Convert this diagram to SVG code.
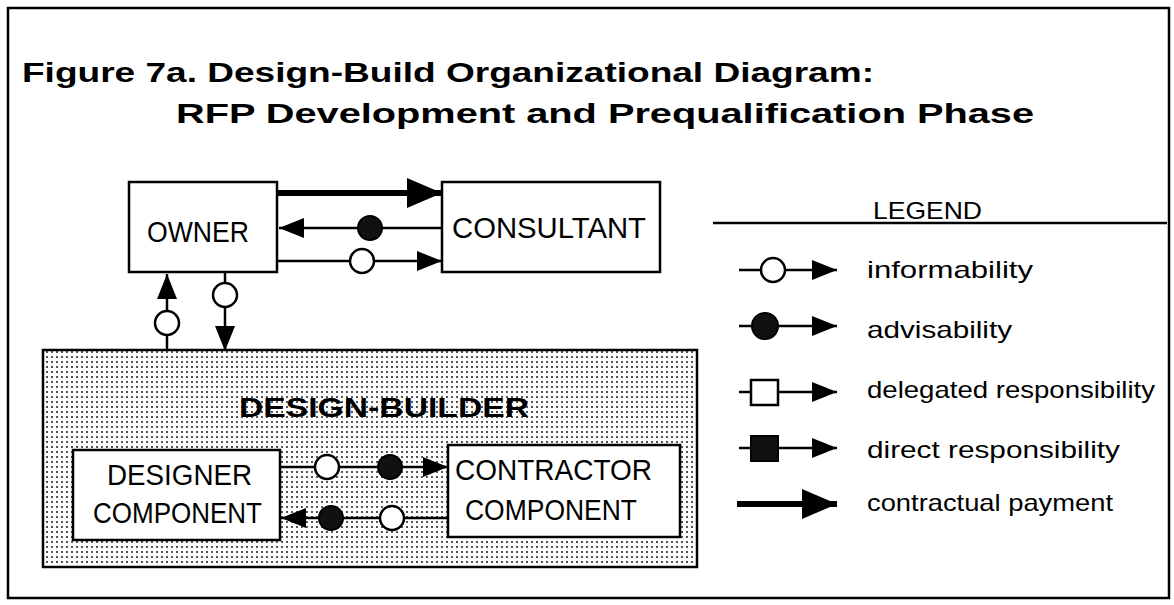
<svg xmlns="http://www.w3.org/2000/svg" width="1174" height="605" viewBox="0 0 1174 605">
<style>
.box{fill:#fff;stroke:#000;stroke-width:2.5}
.ln{stroke:#000;stroke-width:2.5;fill:none}
.thick{stroke:#000;stroke-width:6;fill:none}
.oc{fill:#fff;stroke:#000;stroke-width:2.5}
.fc{fill:#111;stroke:#000;stroke-width:2}
.title{font-family:"Liberation Sans",Arial,sans-serif;font-weight:bold;font-size:28px;fill:#000}
.lbl{font-family:"Liberation Sans",Arial,sans-serif;font-size:30px;fill:#000}
.leg{font-family:"Liberation Sans",Arial,sans-serif;font-size:24px;fill:#000}
</style>
<defs>
<pattern id="dots" width="5" height="5" patternUnits="userSpaceOnUse">
<rect width="5" height="5" fill="#fff"/>
<rect x="1" y="1" width="2" height="2" fill="#555"/>
</pattern>
<marker id="ah" markerUnits="userSpaceOnUse" markerWidth="28" markerHeight="22" refX="25" refY="11" orient="auto">
<path d="M0,1 L25,11 L0,21 z" fill="#000"/>
</marker>
<marker id="ahb" markerUnits="userSpaceOnUse" markerWidth="38" markerHeight="34" refX="35" refY="16" orient="auto">
<path d="M0,1 L35,16 L0,31 z" fill="#000"/>
</marker>
</defs>
<rect x="8" y="8" width="1161" height="590" fill="#fff" stroke="#000" stroke-width="2.5"/>
<text class="title" x="22" y="82" textLength="852" lengthAdjust="spacingAndGlyphs">Figure 7a.  Design-Build Organizational Diagram:</text>
<text class="title" x="176" y="123" textLength="858" lengthAdjust="spacingAndGlyphs">RFP Development and Prequalification Phase</text>
<g id="design-builder">
<rect x="43" y="350" width="654" height="217" fill="url(#dots)" stroke="#000" stroke-width="2.5"/>
<text class="title" x="239" y="417" font-size="32" textLength="290" lengthAdjust="spacingAndGlyphs">DESIGN-BUILDER</text>
</g>
<g id="owner">
<rect class="box" x="129" y="182" width="148" height="90"/>
<text class="lbl" x="147" y="242" textLength="102" lengthAdjust="spacingAndGlyphs">OWNER</text>
</g>
<g id="consultant">
<rect class="box" x="442" y="182" width="218" height="90"/>
<text class="lbl" x="452" y="238" textLength="194" lengthAdjust="spacingAndGlyphs">CONSULTANT</text>
</g>
<g id="designer">
<rect class="box" x="73" y="450" width="207" height="90"/>
<text class="lbl" x="107" y="485" textLength="145" lengthAdjust="spacingAndGlyphs">DESIGNER</text>
<text class="lbl" x="93" y="523" textLength="169" lengthAdjust="spacingAndGlyphs">COMPONENT</text>
</g>
<g id="contractor">
<rect class="box" x="448" y="445" width="232" height="92"/>
<text class="lbl" x="455" y="480" textLength="197" lengthAdjust="spacingAndGlyphs">CONTRACTOR</text>
<text class="lbl" x="465" y="520" textLength="172" lengthAdjust="spacingAndGlyphs">COMPONENT</text>
</g>
<g id="connectors">
<line class="thick" x1="277" y1="193" x2="442" y2="193" marker-end="url(#ahb)"/>
<line class="ln" x1="442" y1="228" x2="279" y2="228" marker-end="url(#ah)"/>
<circle class="fc" cx="370" cy="228" r="12"/>
<line class="ln" x1="277" y1="261" x2="442" y2="261" marker-end="url(#ah)"/>
<circle class="oc" cx="362" cy="261" r="12"/>
<line class="ln" x1="167" y1="350" x2="167" y2="274" marker-end="url(#ah)"/>
<circle class="oc" cx="167" cy="323" r="12"/>
<line class="ln" x1="225" y1="272" x2="225" y2="351" marker-end="url(#ah)"/>
<circle class="oc" cx="225" cy="295" r="12"/>
<line class="ln" x1="280" y1="467" x2="448" y2="467" marker-end="url(#ah)"/>
<circle class="oc" cx="327" cy="467" r="12"/>
<circle class="fc" cx="390" cy="467" r="12"/>
<line class="ln" x1="448" y1="518" x2="281" y2="518" marker-end="url(#ah)"/>
<circle class="oc" cx="392" cy="518" r="12"/>
<circle class="fc" cx="331" cy="518" r="12"/>
</g>
<g id="legend">
<text class="leg" x="873" y="219" font-size="27" textLength="109" lengthAdjust="spacingAndGlyphs">LEGEND</text>
<line class="ln" x1="713" y1="223" x2="1167" y2="223"/>
<line class="ln" x1="739" y1="270" x2="837" y2="270" marker-end="url(#ah)"/>
<circle class="oc" cx="773" cy="270" r="12"/>
<text class="leg" x="867" y="278" textLength="166" lengthAdjust="spacingAndGlyphs">informability</text>
<line class="ln" x1="739" y1="326" x2="837" y2="326" marker-end="url(#ah)"/>
<circle class="fc" cx="765" cy="326" r="13"/>
<text class="leg" x="867" y="338" textLength="145" lengthAdjust="spacingAndGlyphs">advisability</text>
<line class="ln" x1="739" y1="392" x2="837" y2="392" marker-end="url(#ah)"/>
<rect class="oc" x="751" y="380" width="27" height="25"/>
<text class="leg" x="867" y="398" textLength="288" lengthAdjust="spacingAndGlyphs">delegated responsibility</text>
<line class="ln" x1="739" y1="448" x2="837" y2="448" marker-end="url(#ah)"/>
<rect class="fc" x="751" y="436" width="27" height="25"/>
<text class="leg" x="867" y="458" textLength="253" lengthAdjust="spacingAndGlyphs">direct responsibility</text>
<line class="thick" x1="737" y1="504" x2="837" y2="504" marker-end="url(#ahb)"/>
<text class="leg" x="867" y="511" textLength="246" lengthAdjust="spacingAndGlyphs">contractual payment</text>
</g>
</svg>
